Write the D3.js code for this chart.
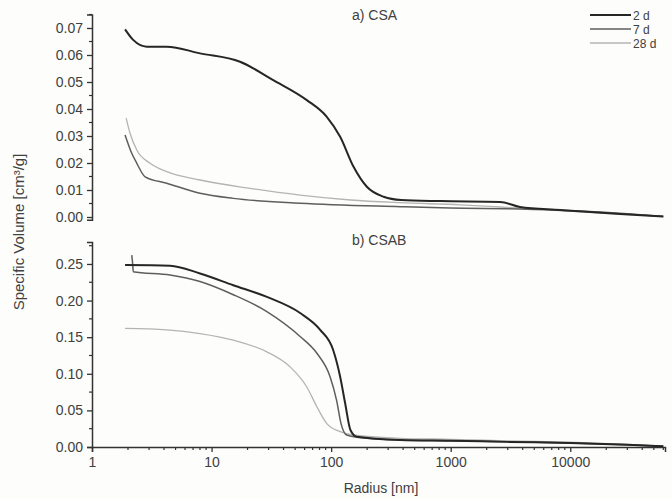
<!DOCTYPE html>
<html lang="en">
<head>
    <meta charset="UTF-8">
    <title>Specific Volume vs Radius</title>
    <script src="https://d3js.org/d3.v7.min.js"></script>
    <style>
        body { margin: 0; background: #fdfdfb; }
        svg { display: block; }
        .tick text, .lbl { font-family: "Liberation Sans", Arial, sans-serif; fill: #404040; }
        .axis path, .axis line { stroke: #333; }
    </style>
</head>
<body>
    <svg id="chart"></svg>

    <script>
        // radius [nm] / specific volume [cm3/g]
        var csa2dR  = [1.89, 2.21, 2.87, 4.22, 8.0, 17.3, 32.8, 62.6, 92, 119, 154, 199, 275, 385, 815, 2600, 3800, 8300, 26000, 60000];
        var csa2dV  = [0.0695, 0.0656, 0.0631, 0.0631, 0.0606, 0.0575, 0.0507, 0.0433, 0.0371, 0.0297, 0.0186, 0.0112, 0.0075, 0.0063, 0.0059, 0.0056, 0.0037, 0.0026, 0.0011, 0.0002];
        var csa7dR  = [1.89, 2.15, 2.37, 2.78, 4.22, 8.0, 15.2, 55, 378, 990, 3800, 12000, 30000, 60000];
        var csa7dV  = [0.0304, 0.0236, 0.0199, 0.0149, 0.0125, 0.0088, 0.0069, 0.0051, 0.0038, 0.0033, 0.0030, 0.0022, 0.0012, 0.0002];
        var csa28dR = [1.93, 2.08, 2.37, 3.06, 4.22, 8.0, 21, 55, 145, 378, 1200, 2600, 8000, 25000, 60000];
        var csa28dV = [0.0366, 0.0310, 0.0248, 0.0199, 0.0168, 0.0137, 0.0106, 0.0081, 0.0063, 0.0053, 0.0045, 0.0037, 0.0024, 0.0012, 0.0002];

        var csab2dR  = [1.89, 4.5, 8.0, 15.2, 29, 55, 81, 104, 119, 131, 145, 164, 378, 1000, 3000, 10000, 30000, 60000];
        var csab2dV  = [0.2486, 0.2477, 0.237, 0.221, 0.205, 0.183, 0.160, 0.1325, 0.096, 0.0597, 0.0232, 0.014, 0.0096, 0.0085, 0.0070, 0.0055, 0.0030, 0.0010];
        var csab7dR  = [2.15, 2.2, 2.21, 4.5, 8.0, 15.2, 29, 55, 76, 98, 111, 121, 135, 199, 378, 1000, 3000, 10000, 30000, 60000];
        var csab7dV  = [0.262, 0.245, 0.2395, 0.235, 0.226, 0.208, 0.185, 0.151, 0.128, 0.096, 0.064, 0.032, 0.0164, 0.0119, 0.0096, 0.0085, 0.0070, 0.0055, 0.0030, 0.0010];
        var csab28dR = [1.89, 4.22, 8.0, 15.2, 29, 45, 62.6, 76, 92, 119, 154, 378, 1000, 3000, 10000, 30000, 60000];
        var csab28dV = [0.162, 0.160, 0.155, 0.146, 0.130, 0.110, 0.082, 0.055, 0.032, 0.021, 0.0164, 0.0119, 0.0105, 0.0085, 0.0065, 0.0035, 0.0012];

        var seriesNames = ["2 d", "7 d", "28 d"];
        var xMajor = [1, 10, 100, 1000, 10000];
        var topMajor = [0, 0.01, 0.02, 0.03, 0.04, 0.05, 0.06, 0.07];
        var botMajor = [0, 0.05, 0.10, 0.15, 0.20, 0.25];

        var styles = [
            {color: "#262626", width: 2},
            {color: "#5e5e5e", width: 1.5},
            {color: "#b4b4b4", width: 1.3}
        ];

        var W = 672, H = 499;
        var svg = d3.select("#chart").attr("width", W).attr("height", H);

        var x = d3.scaleLog().domain([1, 62000]).range([92, 665]);
        var yTop = d3.scaleLinear().domain([-0.001, 0.075]).range([219.7, 14.5]);
        var yBot = d3.scaleLinear().domain([0, 0.28]).range([447, 242]);

        function zip(r, v) { return r.map((d, i) => ({r: d, v: v[i]})); }

        // minor ticks
        var xMinor = [];
        for (var dec = 1; dec <= 10000; dec *= 10)
            for (var k = 2; k <= 9; k++) if (dec * k <= 62000) xMinor.push(dec * k);
        var topMinor = d3.range(0.005, 0.076, 0.01);
        var botMinor = d3.range(0.025, 0.28, 0.05);

        function yAxis(scale, major, minor) {
            var g = svg.append("g").attr("class", "axis").attr("transform", "translate(92,0)");
            g.call(d3.axisLeft(scale).tickValues(major).tickFormat(d3.format(".2f")).tickSizeOuter(0).tickSize(5).tickPadding(4))
                .style("font-size", "14px");
            g.select(".domain").attr("stroke-width", 1.5);
            g.selectAll(".tick line").attr("stroke-width", 1.3);
            g.selectAll(".minor").data(minor).enter().append("line")
                .attr("class", "minor")
                .attr("x1", -3).attr("x2", 0)
                .attr("y1", d => scale(d)).attr("y2", d => scale(d))
                .attr("stroke", "#333").attr("stroke-width", 1.2);
        }
        yAxis(yTop, topMajor, topMinor);
        yAxis(yBot, botMajor, botMinor);

        var gx = svg.append("g").attr("class", "axis").attr("transform", "translate(0,447)");
        gx.call(d3.axisBottom(x).tickValues(xMajor).tickFormat(d3.format("d")).tickSizeOuter(0).tickSize(5).tickPadding(5))
            .style("font-size", "14px");
        gx.select(".domain").attr("stroke-width", 1.5);
        gx.selectAll(".tick line").attr("stroke-width", 1.3);
        gx.selectAll(".minor").data(xMinor).enter().append("line")
            .attr("class", "minor")
            .attr("x1", d => x(d)).attr("x2", d => x(d))
            .attr("y1", 0).attr("y2", 3)
            .attr("stroke", "#333").attr("stroke-width", 1.2);

        // curves
        var lineTop = d3.line().x(d => x(d.r)).y(d => yTop(d.v)).curve(d3.curveMonotoneX);
        var lineBot = d3.line().x(d => x(d.r)).y(d => yBot(d.v)).curve(d3.curveMonotoneX);

        var topSeries = [zip(csa28dR, csa28dV), zip(csa7dR, csa7dV), zip(csa2dR, csa2dV)];
        var botSeries = [zip(csab28dR, csab28dV), zip(csab7dR, csab7dV), zip(csab2dR, csab2dV)];
        var order = [2, 1, 0];

        topSeries.forEach((s, i) => {
            svg.append("path").datum(s).attr("d", lineTop).attr("fill", "none")
                .attr("stroke", styles[order[i]].color).attr("stroke-width", styles[order[i]].width);
        });
        botSeries.forEach((s, i) => {
            svg.append("path").datum(s).attr("d", lineBot).attr("fill", "none")
                .attr("stroke", styles[order[i]].color).attr("stroke-width", styles[order[i]].width);
        });

        // panel titles
        svg.append("text").attr("class", "lbl").attr("x", 352).attr("y", 20).style("font-size", "14px").text("a) CSA");
        svg.append("text").attr("class", "lbl").attr("x", 352).attr("y", 245).style("font-size", "14px").text("b) CSAB");

        // legend
        var leg = svg.append("g");
        seriesNames.forEach((n, i) => {
            var yy = 15 + i * 14;
            leg.append("line").attr("x1", 590).attr("x2", 631).attr("y1", yy).attr("y2", yy)
                .attr("stroke", styles[i].color).attr("stroke-width", styles[i].width);
            leg.append("text").attr("class", "lbl").attr("x", 633).attr("y", yy + 4.5)
                .style("font-size", "12px").text(n);
        });

        // axis titles
        svg.append("text").attr("class", "lbl")
            .attr("transform", "translate(24,232) rotate(-90)")
            .attr("text-anchor", "middle").style("font-size", "15px")
            .text("Specific Volume [cm³/g]");
        svg.append("text").attr("class", "lbl")
            .attr("x", 381).attr("y", 493).attr("text-anchor", "middle").style("font-size", "14px")
            .text("Radius [nm]");
    </script>
</body>
</html>
